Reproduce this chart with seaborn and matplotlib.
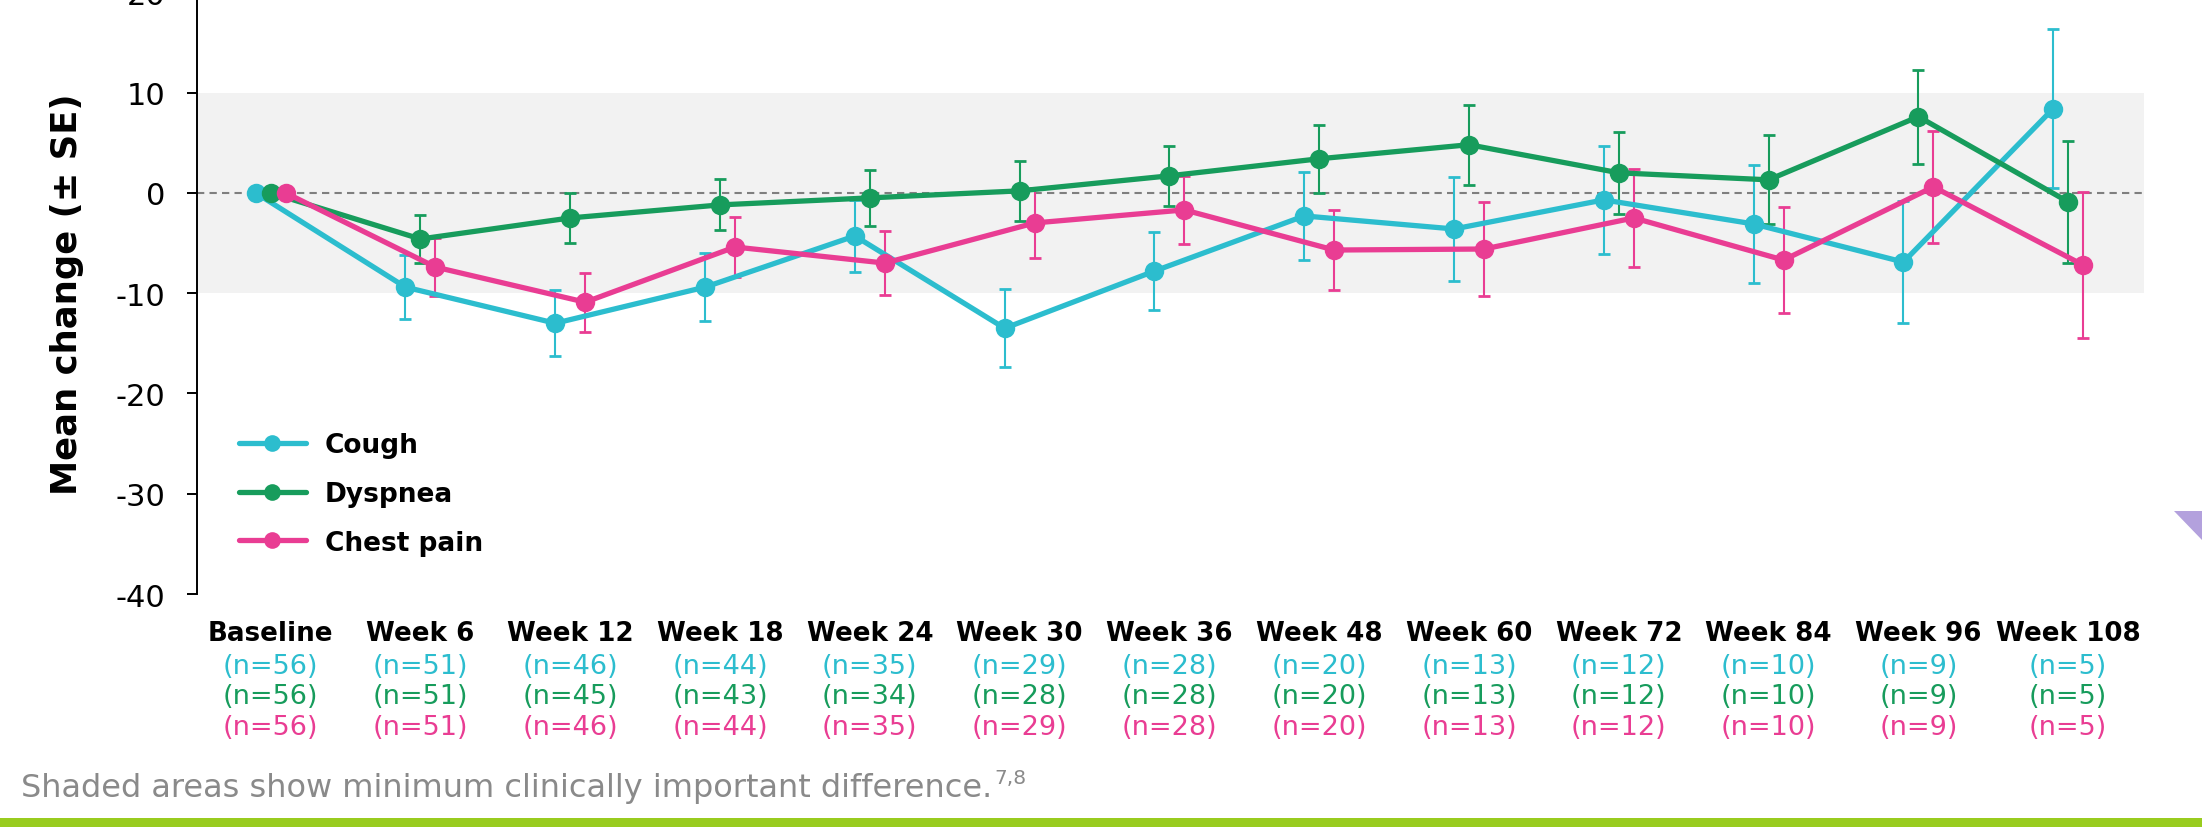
import numpy as np
import pandas as pd
import matplotlib
matplotlib.use("Agg")
import matplotlib.pyplot as plt
from matplotlib.lines import Line2D
from matplotlib.patches import Rectangle, Polygon
import seaborn as sns

# ---------------- data ----------------
categories = ["Baseline", "Week 6", "Week 12", "Week 18", "Week 24", "Week 30", "Week 36",
              "Week 48", "Week 60", "Week 72", "Week 84", "Week 96", "Week 108"]
series_names = ["Cough", "Dyspnea", "Chest pain"]

cough_mean = [0, -9.4, -13.0, -9.4, -4.3, -13.5, -7.8, -2.3, -3.6, -0.7, -3.1, -6.9, 8.4]
cough_se = [0, 3.2, 3.3, 3.4, 3.6, 3.9, 3.9, 4.4, 5.2, 5.4, 5.9, 6.1, 7.9]
dyspnea_mean = [0, -4.6, -2.5, -1.2, -0.5, 0.2, 1.7, 3.4, 4.8, 2.0, 1.3, 7.6, -0.9]
dyspnea_se = [0, 2.4, 2.5, 2.55, 2.8, 3.0, 3.0, 3.4, 4.0, 4.1, 4.45, 4.7, 6.05]
chest_mean = [0, -7.4, -10.9, -5.4, -7.0, -3.0, -1.7, -5.7, -5.6, -2.5, -6.7, 0.6, -7.2]
chest_se = [0, 2.9, 2.95, 2.95, 3.2, 3.5, 3.4, 4.0, 4.7, 4.9, 5.3, 5.6, 7.3]

cough_n = [56, 51, 46, 44, 35, 29, 28, 20, 13, 12, 10, 9, 5]
dyspnea_n = [56, 51, 45, 43, 34, 28, 28, 20, 13, 12, 10, 9, 5]
chest_n = [56, 51, 46, 44, 35, 29, 28, 20, 13, 12, 10, 9, 5]

yticks = [-40, -30, -20, -10, 0, 10, 20]
footnote = "Shaded areas show minimum clinically important difference."
footnote_refs = "7,8"

colors = {"Cough": "#2CBDCE", "Dyspnea": "#179C5C", "Chest pain": "#E93D93"}

# ---------------- style ----------------
sns.set_theme(style="white")
plt.rcParams["font.family"] = ["DejaVu Sans"]
plt.rcParams["axes.unicode_minus"] = False
plt.rcParams["text.color"] = "black"
plt.rcParams["axes.labelcolor"] = "black"
plt.rcParams["xtick.color"] = "black"
plt.rcParams["ytick.color"] = "black"

fig = plt.figure(figsize=(22.02, 8.28), dpi=100)
ax = fig.add_axes([0.0893, 0.2814, 0.8843, 0.7267])

means = {"Cough": cough_mean, "Dyspnea": dyspnea_mean, "Chest pain": chest_mean}
ses = {"Cough": cough_se, "Dyspnea": dyspnea_se, "Chest pain": chest_se}
ns = {"Cough": cough_n, "Dyspnea": dyspnea_n, "Chest pain": chest_n}
offsets = {"Cough": -0.1, "Dyspnea": 0.0, "Chest pain": 0.1}

rows = []
for s in series_names:
    for i, c in enumerate(categories):
        rows.append({"symptom": s, "category": c, "xpos": i + offsets[s],
                     "mean": means[s][i], "se": ses[s][i]})
df = pd.DataFrame(rows)

# shaded MCID band and zero reference line
ax.axhspan(-10, 10, color="#F2F2F2", zorder=0, lw=0)
ax.axhline(0, color="#7F7F7F", lw=1.5, ls=(0, (3.5, 2.5)), zorder=0.5)

# error bars
for s in series_names:
    d = df[df["symptom"] == s]
    ax.errorbar(d["xpos"], d["mean"], yerr=d["se"], fmt="none", ecolor=colors[s],
                elinewidth=1.5, capsize=4, capthick=2, zorder=1.5)

# lines + markers
sns.lineplot(data=df, x="xpos", y="mean", hue="symptom", hue_order=series_names,
             palette=colors, estimator=None, sort=False, marker="o", markersize=14,
             markeredgewidth=0, linewidth=3.8, legend=False, ax=ax, zorder=2)

ax.set_xlim(-0.494, 12.505)
ax.set_ylim(-40, 20)
ax.set_yticks(yticks)
ax.set_yticklabels([str(v) for v in yticks], fontsize=22, color="black")
ax.tick_params(axis="y", length=7.2, width=1.4, pad=15.5, color="black", left=True)
ax.set_xticks(range(len(categories)))
ax.set_xticklabels(categories, fontsize=18.8, fontweight="bold", color="black")
ax.tick_params(axis="x", length=0, pad=19)
ax.set_xlabel("")
ax.set_ylabel("Mean change (± SE)", fontsize=25.5, fontweight="bold", color="black")
ax.yaxis.set_label_coords(-0.0581, 0.5)

sns.despine(ax=ax, top=True, right=True, bottom=True)
ax.spines["left"].set_color("black")
ax.spines["left"].set_linewidth(1.4)
ax.grid(False)
ax.set_facecolor("none")

# n counts under each category
row_y = [-0.1193, -0.1703, -0.2215]
xt = ax.get_xaxis_transform()
for r, s in enumerate(series_names):
    for i in range(len(categories)):
        ax.text(i, row_y[r], f"(n={ns[s][i]})", transform=xt, ha="center", va="center",
                fontsize=19.5, color=colors[s], clip_on=False)

# legend
handles = [Line2D([0], [0], color=colors[s], lw=3.8, marker="o", markersize=12,
                  markeredgewidth=0) for s in series_names]
leg = ax.legend(handles, series_names, loc="upper left", bbox_to_anchor=(0.0217, 0.269),
                frameon=False, borderpad=0, borderaxespad=0, handlelength=2.54,
                handletextpad=0.72, labelspacing=0.86, prop={"size": 19, "weight": "bold"})
for t in leg.get_texts():
    t.set_color("black")

# footnote with superscript references
gray = "#8A8A8A"
fn = fig.text(21 / 2202, (828 - 797.3) / 828, footnote,
              fontsize=23, color=gray, ha="left", va="baseline")
ax.annotate(footnote_refs, xy=(1, 1), xycoords=fn, xytext=(1.5, 3),
            textcoords="offset points", ha="left", va="top", fontsize=14.5,
            color=gray, annotation_clip=False)

# decorative bottom bar and corner triangle
fig.patches.append(Rectangle((0, 0), 1, 9 / 828, transform=fig.transFigure,
                             color="#99CC1F", lw=0, zorder=0))
fig.patches.append(Polygon([(2174 / 2202, 316 / 828), (1, 316 / 828), (1, 287 / 828)],
                           closed=True, transform=fig.transFigure, color="#B3A1DD", lw=0))

fig.savefig("out.png", dpi=100)
